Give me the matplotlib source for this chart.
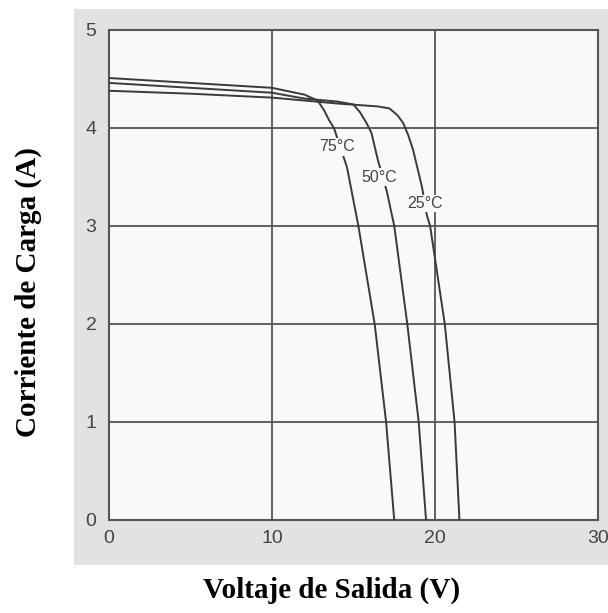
import matplotlib
matplotlib.use("Agg")
import matplotlib.pyplot as plt

# Data
v_75 = [0, 5, 10, 12, 12.8, 13.2, 13.5, 13.8, 14.2, 14.6, 15.3, 16.3, 17.0, 17.5]
i_75 = [4.51, 4.46, 4.41, 4.34, 4.28, 4.18, 4.08, 4.0, 3.8, 3.6, 3.0, 2.0, 1.0, 0.0]

v_50 = [0, 5, 10, 12, 14, 15.0, 15.4, 15.8, 16.1, 16.5, 17.05, 17.5, 18.3, 19.0, 19.45]
i_50 = [4.46, 4.41, 4.36, 4.30, 4.27, 4.24, 4.16, 4.05, 3.95, 3.67, 3.35, 3.0, 2.0, 1.0, 0.0]

v_25 = [0, 5, 10, 14, 16.5, 17.2, 17.7, 18.05, 18.35, 18.65, 19.2, 19.5, 19.7, 20.6, 21.2, 21.5]
i_25 = [4.38, 4.35, 4.31, 4.25, 4.22, 4.2, 4.13, 4.05, 3.93, 3.78, 3.40, 3.11, 3.0, 2.0, 1.0, 0.0]

labels = ["75°C", "50°C", "25°C"]
label_v = [14.0, 16.6, 19.4]
label_i = [3.81, 3.50, 3.23]

x_ticks = [0, 10, 20, 30]
y_ticks = [0, 1, 2, 3, 4, 5]

fig = plt.figure(figsize=(6.08, 6.13), dpi=100)
fig.patch.set_facecolor("white")

bg = fig.add_axes([74 / 608, 48 / 613, 534 / 608, 556 / 613], zorder=-5)
bg.set_facecolor("#e2e2e2")
bg.set_xticks([])
bg.set_yticks([])
for s in bg.spines.values():
    s.set_visible(False)

ax = fig.add_axes([109 / 608, 1 - 520 / 613, 489 / 608, 490 / 613], zorder=1)
ax.set_facecolor("#f9f9f9")

line_c = "#3a3a3a"
for v, i in [(v_75, i_75), (v_50, i_50), (v_25, i_25)]:
    ax.plot(v, i, color=line_c, lw=1.4, zorder=3, solid_joinstyle="round")

for t, lv, li in zip(labels, label_v, label_i):
    ax.text(lv, li, t, ha="center", va="center", fontsize=11.5,
            family="Liberation Sans", color="#444444", zorder=4,
            bbox=dict(facecolor="#f9f9f9", edgecolor="none", pad=1.0))

ax.set_xlim(0, 30)
ax.set_ylim(0, 5)
ax.set_xticks(x_ticks)
ax.set_yticks(y_ticks)
ax.grid(True, color="#555555", lw=1.3)
ax.set_axisbelow(True)
for s in ax.spines.values():
    s.set_color("#555555")
    s.set_linewidth(1.5)
ax.tick_params(length=0, labelsize=14, labelcolor="#444444")
ax.tick_params(axis="x", pad=7)
ax.tick_params(axis="y", pad=9)
for lab in ax.get_xticklabels() + ax.get_yticklabels():
    lab.set_family("Liberation Sans")

fig.text(332 / 608, 1 - 590 / 613, "Voltaje de Salida (V)", ha="center", va="center",
         fontsize=21, fontweight="bold", family="Liberation Serif")
fig.text(28 / 608, 1 - 292 / 613, "Corriente de Carga (A)", ha="center", va="center",
         rotation=90, fontsize=21, fontweight="bold", family="Liberation Serif")

fig.savefig("out.png", dpi=100)
